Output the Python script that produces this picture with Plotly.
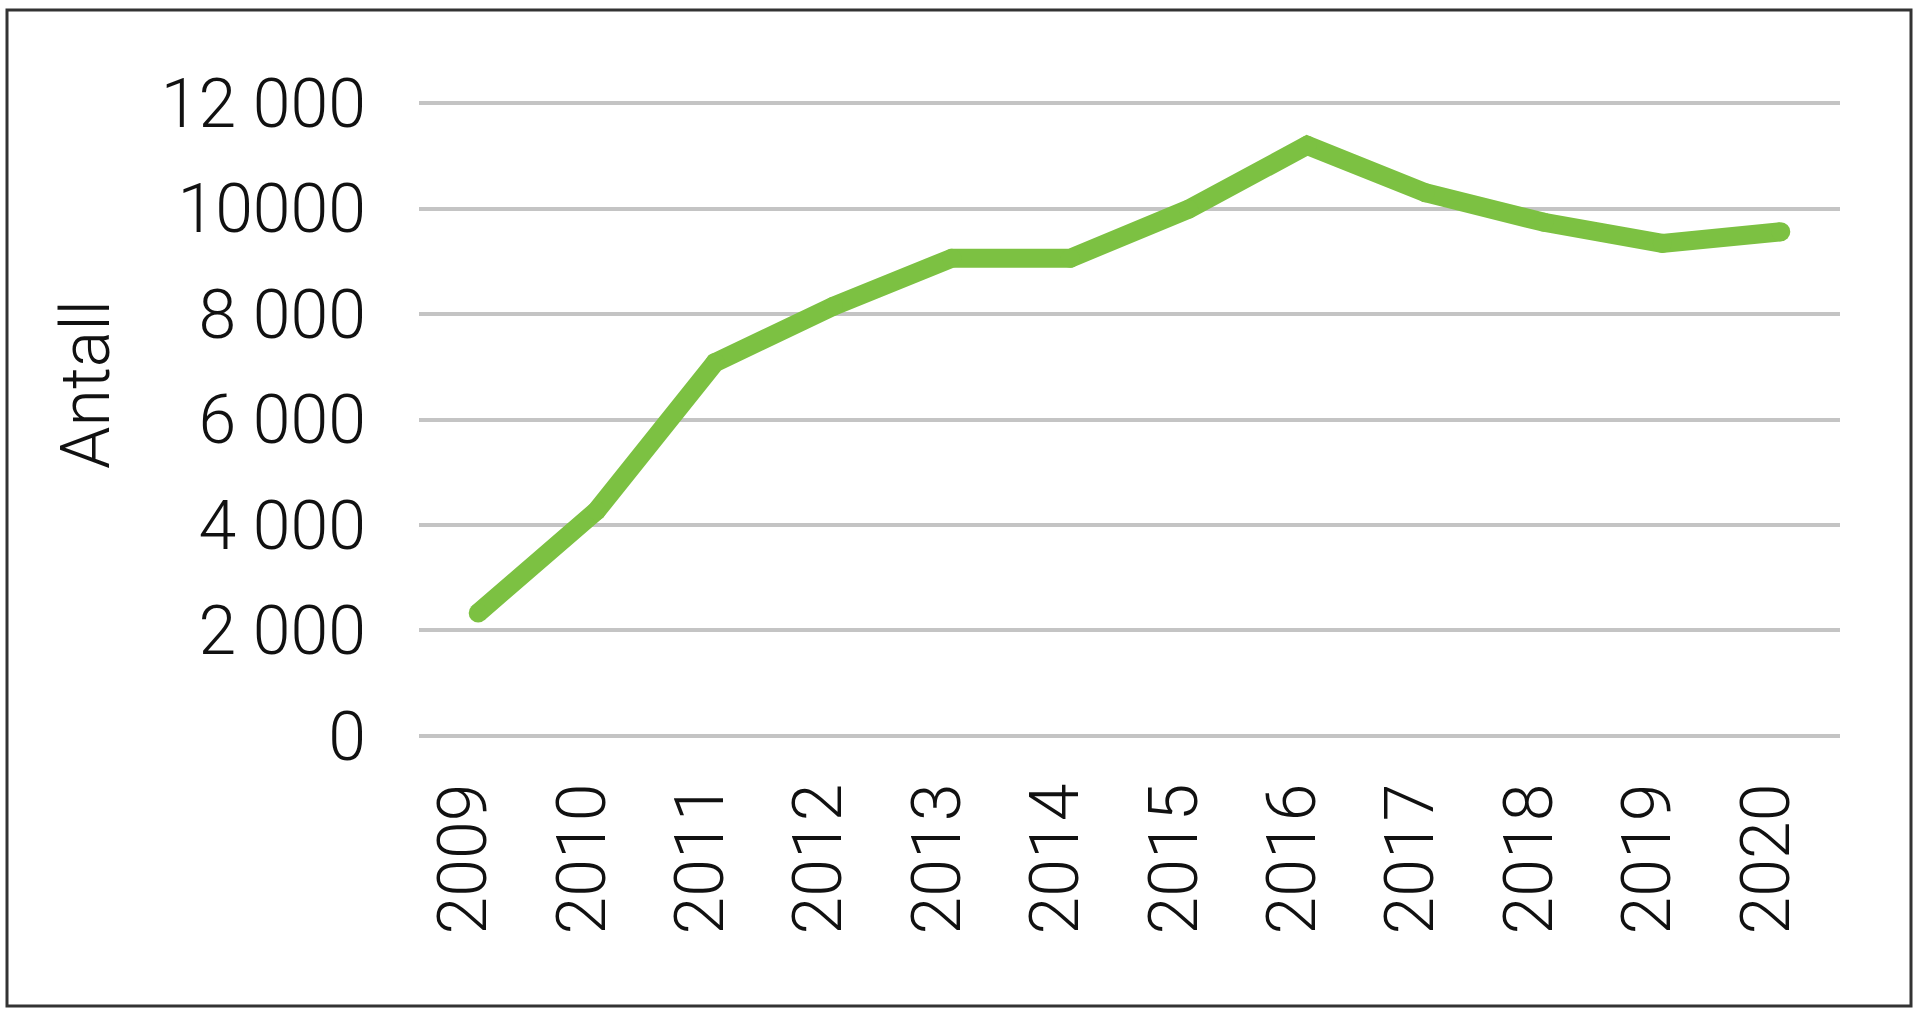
import plotly.graph_objects as go

years = ["2009", "2010", "2011", "2012", "2013", "2014", "2015", "2016", "2017", "2018", "2019", "2020"]
antall = [2330, 4270, 7080, 8150, 9060, 9060, 9990, 11200, 10300, 9740, 9340, 9560]

y_tickvals = [0, 2000, 4000, 6000, 8000, 10000, 12000]
y_ticktext = ["0", "2 000", "4 000", "6 000", "8 000", "10000", "12 000"]

FONT = "Roboto, Liberation Sans, Arial, sans-serif"
WEIGHT = 300
TXT = "#111111"

W, H = 1920, 1011
L, R, T, B = 419, 80, 100, 272

x_num = [int(y) for y in years]
label_shift = 0.12  # tick labels sit slightly left of the data points

fig = go.Figure()
fig.add_trace(go.Scatter(
    x=x_num, y=antall, mode="lines+markers",
    line=dict(color="#7CC142", width=19),
    marker=dict(color="#7CC142", size=19, line=dict(width=0)),
    hovertemplate="%{x}: %{y}<extra></extra>", showlegend=False,
))

pw = W - L - R
ph = H - T - B

def px_x(p):
    return (p - L) / pw

def px_y(p):
    return (H - B - p) / ph

fig.add_shape(
    type="rect", xref="paper", yref="paper",
    x0=px_x(7), x1=px_x(1911), y0=px_y(1006), y1=px_y(10),
    line=dict(color="#333333", width=3), fillcolor="rgba(0,0,0,0)", layer="below",
)

fig.add_annotation(
    text="Antall", xref="paper", yref="paper",
    x=px_x(86), y=px_y(385), textangle=-90, showarrow=False,
    xanchor="center", yanchor="middle",
    font=dict(size=68, family=FONT, color=TXT, weight=WEIGHT),
)

fig.update_layout(
    width=W, height=H,
    margin=dict(l=L, r=R, t=T, b=B, pad=0),
    paper_bgcolor="white", plot_bgcolor="white",
    font=dict(family=FONT, size=66, color=TXT, weight=WEIGHT),
    xaxis=dict(
        range=[min(x_num) - 0.5, max(x_num) + 0.5],
        tickmode="array",
        tickvals=[v - label_shift for v in x_num], ticktext=years,
        tickangle=-90, showgrid=False, zeroline=False, showline=False,
        ticks="", ticklabelstandoff=30,
        tickfont=dict(size=68, family=FONT, color=TXT, weight=WEIGHT),
        fixedrange=True,
    ),
    yaxis=dict(
        range=[-60, 12060], tickvals=y_tickvals, ticktext=y_ticktext,
        showgrid=True, gridcolor="#C4C4C4", gridwidth=4,
        zeroline=False, showline=False, ticks="", ticklabelstandoff=52,
        tickfont=dict(size=68, family=FONT, color=TXT, weight=WEIGHT),
        fixedrange=True,
    ),
)

fig.write_html("out.html", config={"displayModeBar": False},
               post_script="document.body.style.margin='0';")
